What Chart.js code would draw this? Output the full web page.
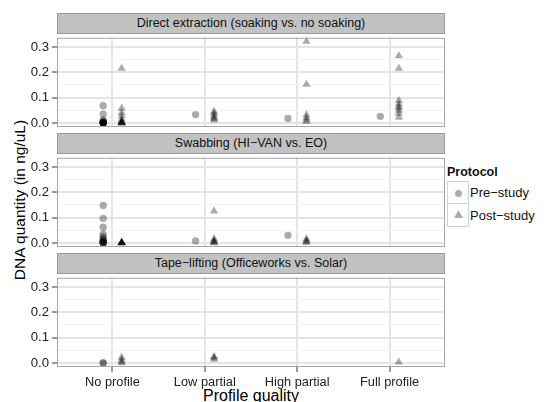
<!DOCTYPE html>
<html><head><meta charset="utf-8">
<script src="https://cdn.jsdelivr.net/npm/chart.js@4"></script>
<style>
html,body{margin:0;padding:0;background:#fff;}
#wrap{position:relative;width:555px;height:402px;overflow:hidden;font-family:"Liberation Sans",Arial,Helvetica,sans-serif;background:#fff;}
.strip{position:absolute;left:57px;width:388px;height:21px;background:#c2c2c2;border:1px solid #999;box-sizing:border-box;text-align:center;font-size:12.5px;line-height:19px;color:#111;}
canvas{position:absolute;left:0;}
#ytitle{position:absolute;left:20px;top:200px;transform:translate(-50%,-50%) rotate(-90deg);white-space:nowrap;font-size:15.5px;color:#000;}
#xtitle{position:absolute;left:251px;top:396px;transform:translate(-50%,-50%);white-space:nowrap;font-size:16px;color:#000;}
#legend{position:absolute;left:447px;top:164px;font-size:13px;color:#111;}
#legend .ttl{font-weight:bold;height:17px;line-height:16px;font-size:12.5px;}
#legend .row{position:relative;height:23px;}
#legend .key{position:absolute;left:0;top:0;width:22px;height:23px;border:1px solid #d2d2d2;box-sizing:border-box;background:#fff;}
#legend .row + .row .key{border-top:none;}
#legend .lab{position:absolute;left:23px;top:0;line-height:23px;white-space:nowrap;}
.circ{position:absolute;left:7px;top:7.5px;width:7px;height:7px;border-radius:50%;background:rgba(0,0,0,0.33);}
.tri{position:absolute;left:6px;top:6px;width:9px;height:8px;background:rgba(0,0,0,0.33);clip-path:polygon(50% 0,100% 100%,0 100%);}
</style>
</head><body>
<div id="wrap">
  <div id="ytitle">DNA quantity (in ng/uL)</div>
  <div id="xtitle">Profile quality</div>
  <div id="legend">
    <div class="ttl">Protocol</div>
    <div class="row"><div class="key"><div class="circ"></div></div><div class="lab">Pre−study</div></div>
    <div class="row"><div class="key"><div class="tri"></div></div><div class="lab">Post−study</div></div>
  </div>
</div>
<script>
// ---- data ----
const categories = ['No profile', 'Low partial', 'High partial', 'Full profile'];
const panelTitles = ['Direct extraction (soaking vs. no soaking)', 'Swabbing (HI−VAN vs. EO)', 'Tape−lifting (Officeworks vs. Solar)'];
const protocols = ['Pre−study', 'Post−study'];
const yTicks = [0, 0.05, 0.1, 0.15, 0.2, 0.25, 0.3];
// one list of DNA quantities per profile-quality category
const directPre  = [[0.068, 0.035, 0.012, 0.006, 0.004, 0.002, 0.001, 0, 0, 0, 0], [0.033], [0.018], [0.026]];
const directPost = [[0.215, 0.058, 0.04, 0.028, 0.015, 0.008, 0.004, 0.002, 0, 0, 0, 0],
                    [0.045, 0.038, 0.03, 0.022, 0.016, 0.012],
                    [0.322, 0.152, 0.032, 0.02, 0.012, 0.005],
                    [0.265, 0.215, 0.088, 0.075, 0.065, 0.06, 0.05, 0.038, 0.022]];
const swabPre  = [[0.148, 0.097, 0.062, 0.035, 0.025, 0.018, 0.012, 0.008, 0.005, 0.003, 0.001, 0, 0], [0.008], [0.03], []];
const swabPost = [[0.003, 0.002, 0.001, 0, 0, 0, 0], [0.126, 0.015, 0.01, 0.005, 0.002, 0], [0.015, 0.01, 0.005, 0.001], []];
const tapePre  = [[0, 0], [], [], []];
const tapePost = [[0.022, 0.012, 0.004, 0], [0.025, 0.02, 0.014], [], [0.003]];

// ---- layout ----
const panelData = [[directPre, directPost], [swabPre, swabPost], [tapePre, tapePost]];
const panelTops = [33, 153, 273];
const stripH = 21, areaH = 94, areaLeft = 57, areaRight = 445;
const dodge = 0.1;
const wrap = document.getElementById('wrap');

function toPoints(lists, off) {
  const pts = [];
  lists.forEach((vals, i) => vals.forEach(v => pts.push({ x: i + 1 + off, y: v })));
  return pts;
}
const isMajor = v => Math.abs(v * 10 - Math.round(v * 10)) < 1e-6;

const borderPlugin = {
  id: 'panelBorder',
  afterDraw(chart) {
    const a = chart.chartArea, ctx = chart.ctx;
    ctx.save();
    ctx.strokeStyle = '#a8a8a8';
    ctx.lineWidth = 1;
    ctx.strokeRect(a.left + 0.5, a.top + 0.5, a.right - a.left - 1, a.bottom - a.top - 1);
    ctx.restore();
  }
};

panelData.forEach((pd, p) => {
  const last = p === panelData.length - 1;
  const strip = document.createElement('div');
  strip.className = 'strip';
  strip.style.top = (panelTops[p] - stripH + 1) + 'px';
  strip.textContent = panelTitles[p];
  wrap.appendChild(strip);

  const cv = document.createElement('canvas');
  const h = last ? 402 - panelTops[p] : areaH + 6;
  cv.width = 450; cv.height = h;
  cv.style.width = '450px'; cv.style.height = h + 'px';
  cv.style.top = panelTops[p] + 'px';
  wrap.appendChild(cv);

  new Chart(cv, {
    type: 'scatter',
    data: {
      datasets: [
        { label: protocols[0], data: toPoints(pd[0], -dodge), pointStyle: 'circle', pointRadius: 3.7,
          backgroundColor: 'rgba(0,0,0,0.33)', borderWidth: 0, pointHoverRadius: 3.7 },
        { label: protocols[1], data: toPoints(pd[1], dodge), pointStyle: 'triangle', pointRadius: 4.8,
          backgroundColor: 'rgba(0,0,0,0.33)', borderWidth: 0, pointHoverRadius: 4.8 }
      ]
    },
    options: {
      responsive: false, animation: false, devicePixelRatio: 1,
      clip: false,
      layout: { padding: { left: 0, right: 450 - areaRight, top: 0, bottom: last ? 0 : 6 } },
      plugins: { legend: { display: false }, tooltip: { enabled: false }, title: { display: false } },
      scales: {
        x: {
          type: 'linear', min: 0.4, max: 4.6,
          afterBuildTicks: s => { s.ticks = categories.map((c, i) => ({ value: i + 1 })); },
          afterFit: s => { s.height = last ? h - areaH : 0; s.paddingLeft = 0; s.paddingRight = 0; },
          border: { display: false },
          grid: { color: '#e4e4e4', lineWidth: 2, drawTicks: last, tickLength: 5, tickColor: '#333', tickWidth: 1 },
          ticks: { display: last, autoSkip: false, maxRotation: 0, padding: 3, color: '#222',
                   font: { family: '"Liberation Sans", Arial, sans-serif', size: 12.8 },
                   callback: v => categories[Math.round(v) - 1] }
        },
        y: {
          type: 'linear', min: -0.016, max: 0.336,
          afterBuildTicks: s => { s.ticks = yTicks.map(v => ({ value: v })); },
          afterFit: s => { s.width = areaLeft; s.paddingTop = 0; s.paddingBottom = 0; },
          border: { display: false },
          grid: {
            color: c => isMajor(c.tick.value) ? '#e4e4e4' : '#f3f3f3',
            lineWidth: c => isMajor(c.tick.value) ? 2 : 1,
            tickLength: 5, tickWidth: 1,
            tickColor: c => isMajor(c.tick.value) ? '#333' : 'rgba(0,0,0,0)'
          },
          ticks: { padding: 3, color: '#222', autoSkip: false,
                   font: { family: '"Liberation Sans", Arial, sans-serif', size: 13.2 },
                   callback: v => isMajor(v) ? v.toFixed(1) : '' }
        }
      }
    },
    plugins: [borderPlugin]
  });
});
</script>
</body></html>
